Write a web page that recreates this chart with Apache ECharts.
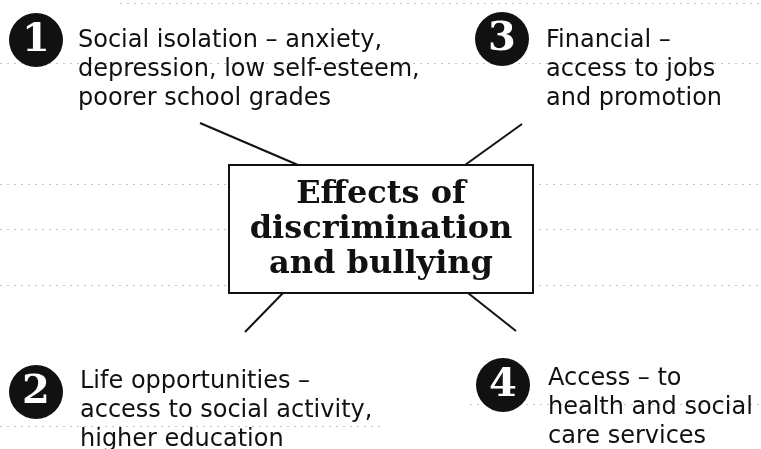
<!DOCTYPE html>
<html>
<head>
<meta charset="utf-8">
<script src="https://cdn.jsdelivr.net/npm/echarts@6/dist/echarts.min.js"></script>
<style>
  html, body { margin: 0; padding: 0; background: #fff; }
  #diagram { width: 761px; height: 449px; }
</style>
</head>
<body>
<div id="diagram"></div>
<script>
// numbered effects
const badgeNumbers = ['1', '2', '3', '4'];
const effectLines = [
    ['Social isolation – anxiety,', 'depression, low self-esteem,', 'poorer school grades'],
    ['Life opportunities –', 'access to social activity,', 'higher education'],
    ['Financial –', 'access to jobs', 'and promotion'],
    ['Access – to', 'health and social', 'care services']
];
const centreTitle = ['Effects of', 'discrimination', 'and bullying'];

// layout (pixel space of the page, y down)
const badgePos = [[36, 40], [36, 392], [502, 39], [503, 385]];
const textPos = [[78, 41], [80, 382], [546, 41], [548, 379]];
const connectorPos = [
    [[200, 123], [298, 165]],
    [[245, 332], [283, 293]],
    [[522, 124], [465, 165]],
    [[516, 331], [468, 293]]
];
const boxRect = [229, 165, 533, 293];
const ruleLines = [
    [[120, 3], [761, 3]],
    [[0, 63], [761, 63]],
    [[0, 184], [761, 184]],
    [[0, 229], [761, 229]],
    [[0, 285], [761, 285]],
    [[470, 404], [761, 404]],
    [[0, 426], [380, 426]]
];

const chart = echarts.init(document.getElementById('diagram'), null, { renderer: 'canvas' });

const textFont = '24px "DejaVu Sans"';
const titleFont = 'bold 32px "DejaVu Serif"';

const option = {
    animation: false,
    grid: { left: 0, right: 0, top: 0, bottom: 0 },
    xAxis: { type: 'value', min: 0, max: 761, show: false },
    yAxis: { type: 'value', min: 0, max: 449, inverse: true, show: false },
    series: [
        {
            // faint ruled lines of the scanned page
            type: 'lines',
            coordinateSystem: 'cartesian2d',
            silent: true,
            data: ruleLines.map(c => ({ coords: c })),
            lineStyle: { color: '#c4c4c4', width: 1, type: [2, 5], opacity: 1 }
        },
        {
            type: 'lines',
            coordinateSystem: 'cartesian2d',
            silent: true,
            data: connectorPos.map(c => ({ coords: c })),
            lineStyle: { color: '#111', width: 2, opacity: 1 }
        },
        {
            // centre box
            type: 'custom',
            coordinateSystem: 'cartesian2d',
            silent: true,
            data: [[boxRect[0], boxRect[1], boxRect[2], boxRect[3]]],
            renderItem: (params, api) => {
                const p0 = api.coord([api.value(0), api.value(1)]);
                const p1 = api.coord([api.value(2), api.value(3)]);
                const cx = (p0[0] + p1[0]) / 2;
                const cy = (p0[1] + p1[1]) / 2;
                return {
                    type: 'group',
                    children: [
                        {
                            type: 'rect',
                            shape: { x: p0[0], y: p0[1], width: p1[0] - p0[0], height: p1[1] - p0[1] },
                            style: { fill: '#fff', stroke: '#111', lineWidth: 2 }
                        },
                        {
                            type: 'text',
                            style: {
                                text: centreTitle.join('\n'),
                                x: cx, y: cy + 1,
                                align: 'center', verticalAlign: 'middle',
                                font: titleFont, lineHeight: 35, fill: '#111'
                            }
                        }
                    ]
                };
            }
        },
        {
            // numbered badges
            type: 'scatter',
            silent: true,
            symbol: 'circle',
            symbolSize: 54,
            itemStyle: { color: '#111', opacity: 1 },
            data: badgePos.map((p, i) => ({ value: p, name: badgeNumbers[i] })),
            label: {
                show: true,
                position: 'inside',
                formatter: p => p.name,
                color: '#fff',
                fontFamily: 'DejaVu Serif',
                fontWeight: 'bold',
                fontSize: 40,
                offset: [0, 1]
            }
        },
        {
            // effect descriptions
            type: 'custom',
            coordinateSystem: 'cartesian2d',
            silent: true,
            data: textPos.map((p, i) => [p[0], p[1], i]),
            renderItem: (params, api) => {
                const pt = api.coord([api.value(0), api.value(1)]);
                const lines = effectLines[api.value(2)];
                return {
                    type: 'text',
                    style: {
                        text: lines.join('\n'),
                        x: pt[0], y: pt[1] - 14.5,
                        align: 'left', verticalAlign: 'top',
                        font: textFont, lineHeight: 29, fill: '#111'
                    }
                };
            }
        }
    ]
};

chart.setOption(option);
</script>
</body>
</html>
